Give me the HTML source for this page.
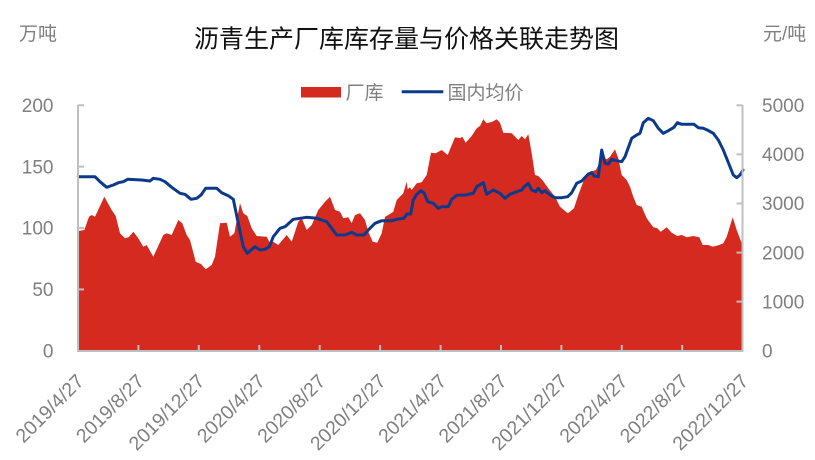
<!DOCTYPE html>
<html><head><meta charset="utf-8"><style>
html,body{margin:0;padding:0;background:#fff;}
svg{display:block;}
text{font-family:"Liberation Sans","Noto Sans CJK SC",sans-serif;}
</style></head><body>
<svg width="815" height="460" viewBox="0 0 815 460" xmlns="http://www.w3.org/2000/svg">
<rect width="815" height="460" fill="#fff"/>
<text x="406.5" y="47.5" text-anchor="middle" font-size="25" fill="#111">沥青生产厂库库存量与价格关联走势图</text>
<text x="19" y="40" font-size="19" fill="#7f7f7f">万吨</text>
<text x="763" y="40" font-size="19" fill="#7f7f7f">元/吨</text>
<rect x="301" y="87" width="40" height="10.5" fill="#D42A1F"/>
<text x="345.5" y="99" font-size="19" fill="#7f7f7f">厂库</text>
<line x1="401.7" y1="91.7" x2="443.3" y2="91.7" stroke="#0B3A8C" stroke-width="3"/>
<text x="447.5" y="99" font-size="19" fill="#7f7f7f">国内均价</text>

<path fill="#D42A1F" d="M78.3,231 L84.3,230 L89,216.7 L91.7,215 L95,216.7 L104.3,196.7 L111.7,210 L115.7,216 L120,233.3 L125,238.3 L129,237 L133.3,231.7 L138.3,238.3 L143.3,246.7 L146.7,245 L153.3,256.7 L163.3,235 L166.7,233.3 L171.7,235 L178.3,220 L182.3,223.3 L186.7,235 L190,240 L195.7,261.7 L201,264 L205.7,269.3 L211.7,265 L215,256.7 L220,223.3 L226.7,222.7 L230,236.7 L234.3,233.3 L240,203.3 L243.3,213.3 L247.3,216 L251.7,228.3 L256.7,236 L266.7,236.7 L270,243.3 L273.3,241.7 L278.3,245 L286.7,235 L291.7,241.7 L298.3,221.7 L301.7,218.3 L306.7,230 L311.7,225 L318.3,210 L325,201.7 L330,196.7 L335,210 L340,211.7 L343.3,218.3 L348.3,217.3 L351.7,223.3 L355,215 L360,213.3 L365,220 L368.3,231.7 L372.7,241.7 L377.3,242.7 L381.7,233.3 L385,216.7 L388.3,215 L393.3,211.7 L396.7,200 L403.3,193.3 L406.7,181.7 L407.7,189.3 L410,187.3 L411.7,190 L416.7,183.3 L421.7,182.3 L426.7,175 L431,152.7 L435.7,153.3 L441.7,150 L447.7,155 L455,137.3 L460,138.3 L462.3,136.7 L465.7,142.7 L471.7,136 L476.7,128.3 L480,126 L483.3,119.3 L486.7,123.3 L492.3,121.7 L496.7,119.3 L500,122.7 L503.3,132.7 L511.7,133.3 L518.3,140 L521.7,136 L525,139.3 L528.3,134.3 L531.7,153.3 L535,175 L538.3,176 L542.3,180 L548.3,188.3 L555,196.7 L560,206.7 L567.7,213.3 L570,211.7 L574,208.3 L578.3,195 L583.3,181.7 L590,171.7 L596,170 L600,161.7 L602.7,156.7 L606.7,159.3 L610,156.7 L615,149.3 L618.3,158.3 L621.7,175 L626.7,180 L630,186.7 L633.3,196.7 L636.7,205 L641.7,206.7 L646.7,218.3 L653.3,227.3 L657.3,228.3 L660.7,231.7 L666.7,227.3 L671.7,232.7 L677.3,236 L681.7,235 L686.7,237.3 L693.3,236 L699.3,237.3 L702.7,245 L708.3,245 L712.7,246.7 L719.3,245 L723.3,243.3 L726.7,236.7 L732.7,217.3 L736.7,230 L742,244 L742,351 L78.3,351 Z"/>

<polyline fill="none" stroke="#0B3A8C" stroke-width="3" stroke-linejoin="round" stroke-linecap="round" points="78.3,176.7 95,176.7 100,181.7 106.7,187.3 113.3,185 118.3,182.7 123.3,181.7 127.7,179.3 141.7,180 150,181 153.3,178.3 160,179.3 165,181.7 171.7,187.3 180,193.3 185,194.3 191,199.3 196.7,198.3 201,195 205.7,188.3 216.7,188.3 221.7,192.7 228.3,195.7 233.3,199.3 238.3,223.3 243.3,246.7 247.3,253.3 255,246.7 260,250 265,249.3 269.3,246.7 273.3,236.7 280,228.3 285,226.7 293.3,219.3 306.7,217.3 316.7,218.3 326.7,221.7 336.7,235 345,235 351.7,232.3 356.7,235 364,235 368.3,230 375,223.3 381.7,220.7 391.7,220.7 398.3,219 404,218.3 406.7,214 410.7,214 413.3,200 416.7,194.3 421,190.7 424.3,193.3 427.7,201.7 433.3,203.3 438.3,208.3 441.7,206.7 448.3,206.7 451.7,199.3 456.7,195.3 465,195 473.3,193.3 476.7,186.7 483.3,182.7 486.7,194.3 493.3,190 500,193.3 505,198.3 510,194.3 516.7,191.7 521.7,190 524.3,186.7 528.3,183.3 531.7,190 535.7,191.7 538.3,188.3 541.7,192.7 545,190.7 550,195 555,197.7 561.7,197.7 567.7,196.7 571.7,192.7 576.7,183.3 581.7,181 588.3,174 591.7,172.7 594,176 598.3,176.7 601.7,150 605,163.3 608.3,164 611.7,159.3 616.7,160.7 621.7,161.7 625,156.7 631.7,138.3 636.7,135 640,133.3 643.3,122.7 648.3,118.3 653.3,120.7 658.3,128.3 663.3,133.3 668.3,130.7 674,127.3 677.3,122.7 681.7,124.3 694,124.3 698.3,127.7 703.3,128.3 707.3,130 713.3,133.3 718.3,140 723.3,150 729.3,165 733.3,175 736.7,177.7 740,175 743,170"/>

<g stroke="#bfbfbf" stroke-width="2" fill="none">
<line x1="78" y1="105" x2="78" y2="351"/>
<line x1="742.5" y1="105" x2="742.5" y2="351"/>
<line x1="77" y1="351" x2="743.5" y2="351"/>
<line x1="78" y1="105.3" x2="84" y2="105.3"/>
<line x1="78" y1="166.6" x2="84" y2="166.6"/>
<line x1="78" y1="228" x2="84" y2="228"/>
<line x1="78" y1="289.4" x2="84" y2="289.4"/>
<line x1="736.5" y1="105.3" x2="742.5" y2="105.3"/>
<line x1="736.5" y1="154.4" x2="742.5" y2="154.4"/>
<line x1="736.5" y1="203.5" x2="742.5" y2="203.5"/>
<line x1="736.5" y1="252.6" x2="742.5" y2="252.6"/>
<line x1="736.5" y1="301.6" x2="742.5" y2="301.6"/>
<line x1="138.4" y1="345" x2="138.4" y2="351"/>
<line x1="198.8" y1="345" x2="198.8" y2="351"/>
<line x1="259.3" y1="345" x2="259.3" y2="351"/>
<line x1="319.7" y1="345" x2="319.7" y2="351"/>
<line x1="380.1" y1="345" x2="380.1" y2="351"/>
<line x1="440.6" y1="345" x2="440.6" y2="351"/>
<line x1="501" y1="345" x2="501" y2="351"/>
<line x1="561.4" y1="345" x2="561.4" y2="351"/>
<line x1="621.8" y1="345" x2="621.8" y2="351"/>
<line x1="682.2" y1="345" x2="682.2" y2="351"/>
</g>

<g font-size="19" fill="#7f7f7f" text-anchor="end">
<text x="53.5" y="112">200</text>
<text x="53.5" y="173.3">150</text>
<text x="53.5" y="234.7">100</text>
<text x="53.5" y="296">50</text>
<text x="53.5" y="357.5">0</text>
</g>
<g font-size="19" fill="#7f7f7f">
<text x="762" y="112">5000</text>
<text x="762" y="161">4000</text>
<text x="762" y="210.2">3000</text>
<text x="762" y="259.3">2000</text>
<text x="762" y="308.3">1000</text>
<text x="762" y="357.5">0</text>
</g>

<g font-size="19.5" fill="#7f7f7f" text-anchor="end">
<text transform="translate(85,382.5) rotate(-45)">2019/4/27</text>
<text transform="translate(145.4,382.5) rotate(-45)">2019/8/27</text>
<text transform="translate(205.8,382.5) rotate(-45)">2019/12/27</text>
<text transform="translate(266.3,382.5) rotate(-45)">2020/4/27</text>
<text transform="translate(326.7,382.5) rotate(-45)">2020/8/27</text>
<text transform="translate(387.1,382.5) rotate(-45)">2020/12/27</text>
<text transform="translate(447.6,382.5) rotate(-45)">2021/4/27</text>
<text transform="translate(508,382.5) rotate(-45)">2021/8/27</text>
<text transform="translate(568.4,382.5) rotate(-45)">2021/12/27</text>
<text transform="translate(628.8,382.5) rotate(-45)">2022/4/27</text>
<text transform="translate(689.2,382.5) rotate(-45)">2022/8/27</text>
<text transform="translate(749.5,382.5) rotate(-45)">2022/12/27</text>
</g>
</svg>
</body></html>
